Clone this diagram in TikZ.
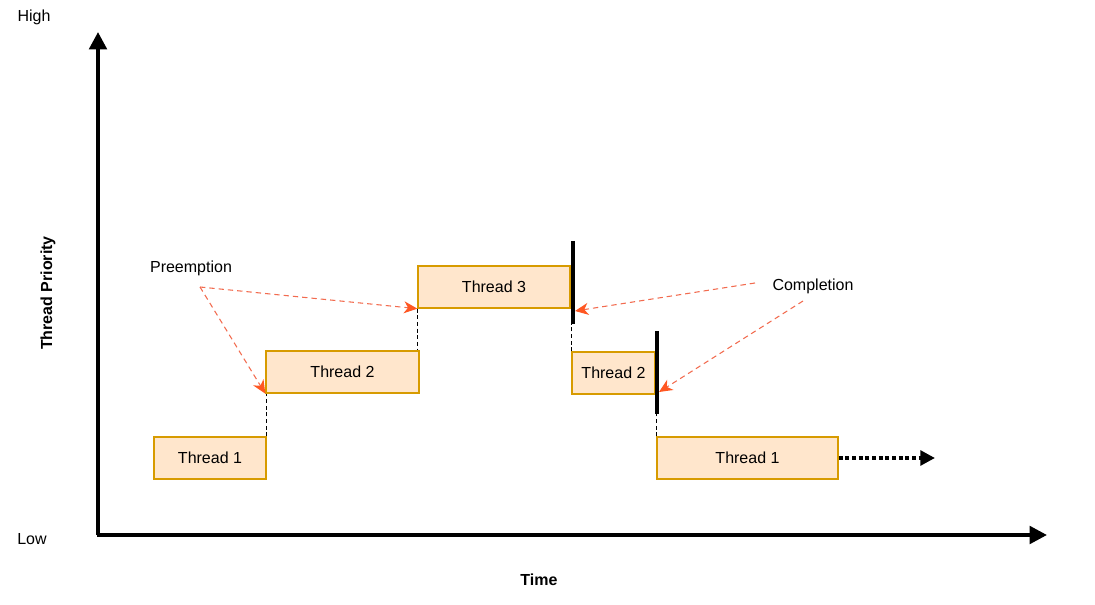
\documentclass[tikz,border=0pt]{standalone}
\usepackage{xcolor}
\usepackage{fontspec}
\setmainfont{Liberation Sans}
\usepackage{tikz}
\usetikzlibrary{arrows.meta}

\definecolor{threadfill}{HTML}{FFE6CC}
\definecolor{threadline}{HTML}{D79B00}
\definecolor{noteline}{HTML}{F26B4F}
\definecolor{notehead}{HTML}{FF5722}

\tikzset{
    txt/.style={font=\fontsize{12}{14}\selectfont, inner sep=0pt},
    thread/.style={txt, draw=threadline, fill=threadfill, line width=1pt,
        minimum height=31.5pt},
    axis/.style={line width=3pt, -{Triangle[length=13pt,width=13pt]}},
    handover/.style={dashed, line width=0.8pt, dash pattern=on 3pt off 2pt},
    finish/.style={line width=3pt},
    note/.style={noteline, dashed, line width=0.8pt, dash pattern=on 4pt off 3pt,
        -{Stealth[length=10pt,width=9pt,inset=3pt,notehead]}},
}

\begin{document}
\begin{tikzpicture}[x=0.75pt, y=-0.75pt]
        \useasboundingbox (0,0) rectangle (1095,605);
        \coordinate (origin) at (98,535);
        \coordinate (ytop) at (98,32);
        \coordinate (xend) at (1047,535);
        \draw [axis] (origin) -- (ytop);
        \draw [axis] ([xshift=-1.1pt]origin) -- (xend);

        \node [txt] (high) at (34,17) {High};
        \node [txt] (low) at (32,539) {Low};
        \node [txt, font=\fontsize{12}{14}\selectfont\bfseries] (time) at (539,580) {Time};
        \node [txt, font=\fontsize{12}{14}\selectfont\bfseries, rotate=90] (prio) at (48,293) {Thread Priority};

        \node [thread, minimum width=84pt] (t1a) at (210,458) {Thread 1};
        \node [thread, minimum width=114.75pt] (t2a) at (342.5,372) {Thread 2};
        \node [thread, minimum width=114pt] (t3) at (494,287) {Thread 3};
        \node [thread, minimum width=62.25pt] (t2b) at (613.5,373) {Thread 2};
        \node [thread, minimum width=135.75pt] (t1b) at (747.5,458) {Thread 1};

        \draw [handover] (t1a.north east) -- (t1a.north east |- t2a.south);
        \draw [handover] (t3.south west) -- (t3.south west |- t2a.north);
        \draw [handover] (t2b.north west) -- (t2b.north west |- t3.south);
        \draw [handover] (t1b.north west) -- (t1b.north west |- t2b.south);

        \coordinate (end3top) at (573,241);
        \coordinate (end3bot) at (573,324);
        \coordinate (end2top) at (657,331);
        \coordinate (end2bot) at (657,414);
        \draw [finish] (end3top) -- (end3bot);
        \draw [finish] (end2top) -- (end2bot);

        \coordinate (later) at (935,458);
        \draw [line width=3pt, dotted, -{Triangle[length=11pt,width=11pt]}] (t1b.east) -- (later);

        \node [txt] (preempt) at (191,268) {Preemption};
        \node [txt] (complete) at (813,286) {Completion};
        \coordinate (pre0) at (200,287);
        \coordinate (cpl1) at (755,283);
        \coordinate (cpl2) at (803,301);
        \coordinate (hit3) at (575,311);
        \coordinate (hit2) at (659,392);
        \draw [note] (pre0) -- (t2a.south west);
        \draw [note] (pre0) -- (t3.south west);
        \draw [note] (cpl1) -- (hit3);
        \draw [note] (cpl2) -- (hit2);
\end{tikzpicture}
\end{document}
